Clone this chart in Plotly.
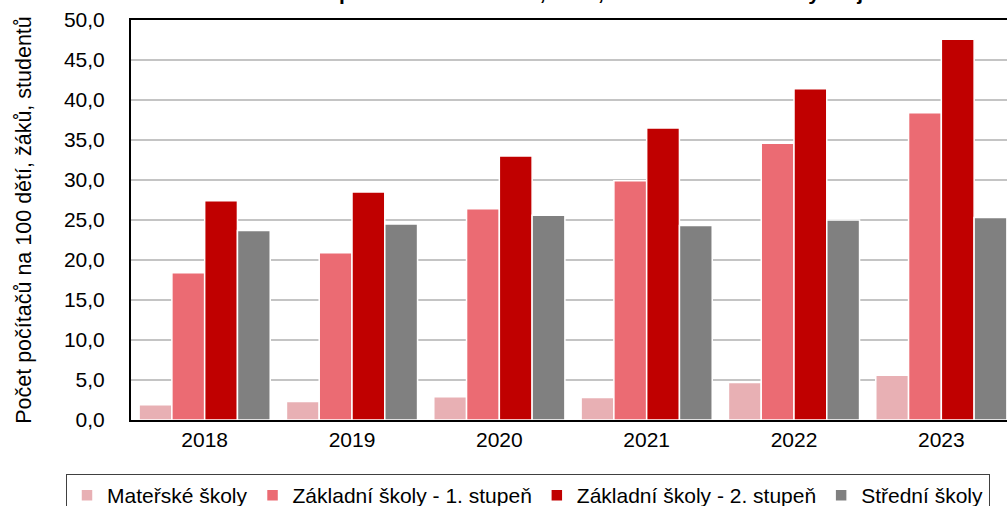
import plotly.graph_objects as go

years = ["2018", "2019", "2020", "2021", "2022", "2023"]
series_names = ["Mateřské školy", "Základní školy - 1. stupeň",
                "Základní školy - 2. stupeň", "Střední školy"]
materske = [1.9, 2.3, 2.9, 2.8, 4.7, 5.6]
zakladni_1 = [18.4, 20.9, 26.4, 29.9, 34.6, 38.4]
zakladni_2 = [27.4, 28.5, 33.0, 36.5, 41.4, 47.6]
stredni = [23.7, 24.5, 25.6, 24.3, 25.0, 25.3]
colors = ["#e8b0b4", "#eb6b73", "#c00000", "#808080"]

FONT = "Liberation Sans, Arial, sans-serif"

fig = go.Figure()
for name, vals, col in zip(series_names, [materske, zakladni_1, zakladni_2, stredni], colors):
    fig.add_trace(go.Bar(
        x=years, y=vals, name=name,
        marker=dict(color=col, line=dict(color="white", width=1.5)),
    ))

L, T, B = 131, 20, 86
PLOT_W = 1007 - L
fig.update_layout(
    width=1007, height=506,
    margin=dict(l=L, r=0, t=T, b=B, autoexpand=False),
    paper_bgcolor="white", plot_bgcolor="white",
    barmode="group", bargap=0.11, bargroupgap=0,
    separators=", ",
    font=dict(family=FONT, size=21, color="black"),
    showlegend=True,
    legend=dict(
        orientation="h", x=(66 - L) / PLOT_W, y=-54 / 400,
        xanchor="left", yanchor="top",
        bordercolor="#404040", borderwidth=1,
        font=dict(family=FONT, size=21, color="black"),
        traceorder="normal",
    ),
)

fig.update_xaxes(
    type="category", range=[-0.5, -0.5 + PLOT_W / (884 / 6)],
    showline=True, linecolor="black", linewidth=2, mirror=True,
    ticks="", tickfont=dict(size=21), showgrid=False,
)
fig.update_yaxes(
    range=[0, 50], dtick=5, tickformat=".1f",
    showline=True, linecolor="black", linewidth=2,
    showgrid=True, gridcolor="#c4c4c4", gridwidth=1.5,
    ticks="", tickfont=dict(size=21), ticklabelstandoff=20,
    title=dict(text="Počet počítačů na 100 dětí, žáků, studentů",
               font=dict(size=21.5), standoff=26),
    zeroline=False,
)

fig.add_annotation(
    text="<b>Počet počítačů na 100 dětí, žáků, studentů – Liberecký kraj</b>",
    xref="paper", yref="paper", x=0.5, y=1, xanchor="center", yanchor="bottom",
    yshift=14, showarrow=False, font=dict(family=FONT, size=21, color="black"),
)

fig.write_html(
    "out.html",
    config={"displayModeBar": False},
    post_script="document.body.style.margin='0';document.body.style.overflow='hidden';",
)
